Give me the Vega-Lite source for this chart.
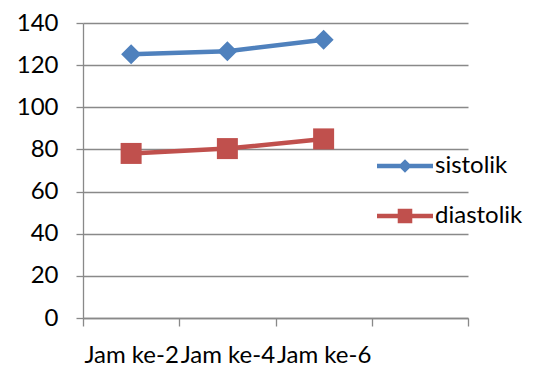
{
  "$schema": "https://vega.github.io/schema/vega-lite/v6.json",
  "autosize": "none",
  "width": 385,
  "height": 295,
  "padding": {"left": 83, "top": 23, "right": 82, "bottom": 56},
  "background": "white",
  "config": {
    "view": {"stroke": null},
    "font": "Lato",
    "axis": {"labelFont": "Lato", "labelFontSize": 24, "labelColor": "black", "domainColor": "#898989", "tickColor": "#898989", "gridColor": "#898989", "domainWidth": 1.3, "tickWidth": 1.3, "gridWidth": 1.3}
  },
  "data": {
    "values": [
      {"jam": "Jam ke-2", "series": "sistolik", "value": 125.2},
      {"jam": "Jam ke-4", "series": "sistolik", "value": 126.6},
      {"jam": "Jam ke-6", "series": "sistolik", "value": 132.1},
      {"jam": "Jam ke-2", "series": "diastolik", "value": 78.1},
      {"jam": "Jam ke-4", "series": "diastolik", "value": 80.4},
      {"jam": "Jam ke-6", "series": "diastolik", "value": 85.0}
    ]
  },
  "encoding": {
    "x": {
      "field": "jam", "type": "nominal", "bandPosition": 0.5,
      "scale": {"type": "band", "domain": ["Jam ke-2", "Jam ke-4", "Jam ke-6", " "], "paddingInner": 0, "paddingOuter": 0},
      "axis": {"title": null, "labelAngle": 0, "tickBand": "extent", "tickSize": 8, "labelPadding": 36, "labelBaseline": "alphabetic", "labelOverlap": false, "labelBound": false, "labelFlush": false, "grid": false}
    },
    "y": {
      "field": "value", "type": "quantitative",
      "scale": {"domain": [0, 140], "nice": false, "zero": true},
      "axis": {"title": null, "values": [0, 20, 40, 60, 80, 100, 120, 140], "grid": true, "tickSize": 7, "labelPadding": 18, "labelBaseline": "middle"}
    },
    "color": {
      "field": "series", "type": "nominal",
      "scale": {"domain": ["sistolik", "diastolik"], "range": ["#4F81BD", "#C0504D"]},
      "legend": {
        "orient": "none", "legendX": 294, "legendY": 115, "title": null, "padding": 0,
        "symbolSize": 3136, "symbolStrokeWidth": 0, "symbolType": "square", "labelFont": "Lato", "labelFontSize": 24, "labelColor": "black", "labelOffset": 2, "rowPadding": 10,
        "encode": {
          "symbols": {
            "update": {
              "shape": {"signal": "datum.value === 'sistolik' ? 'M-1,-0.08H1V0.08H-1Z M0,-0.24L0.24,0L0,0.24L-0.24,0Z' : 'M-1,-0.08H1V0.08H-1Z M-0.26,-0.26H0.26V0.26H-0.26Z'"},
              "fill": {"signal": "datum.value === 'sistolik' ? '#4F81BD' : '#C0504D'"},
              "fillOpacity": {"value": 1},
              "strokeWidth": {"value": 0}
            }
          }
        }
      }
    }
  },
  "layer": [
    {"mark": {"type": "line", "strokeWidth": 4.5, "strokeCap": "round"}},
    {
      "transform": [{"filter": "datum.series === 'sistolik'"}],
      "mark": {"type": "point", "filled": true, "opacity": 1, "shape": "diamond", "size": 400}
    },
    {
      "transform": [{"filter": "datum.series === 'diastolik'"}],
      "mark": {"type": "point", "filled": true, "opacity": 1, "shape": "square", "size": 441}
    }
  ]
}
